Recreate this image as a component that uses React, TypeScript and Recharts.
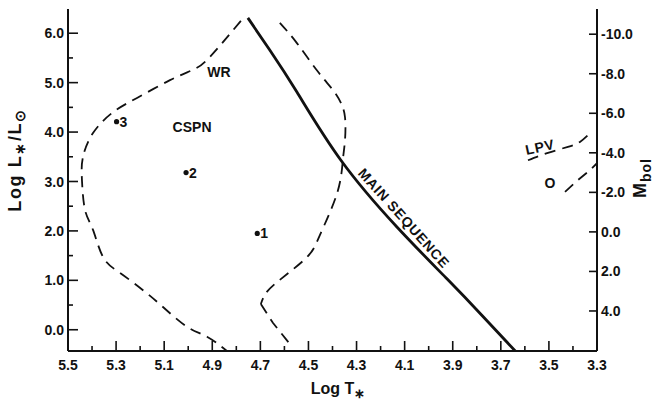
import React from 'react';
import { ComposedChart, Line, Scatter, XAxis, YAxis } from 'recharts';

// HR diagram: log T* (reversed) against log L*/L⊙, with M_bol on the right.
const INK = '#111111';
const FONT = '"Liberation Sans", Arial, sans-serif';

// plot box in px, chart margins/axis sizes below are chosen to land on these
const PLOT_LEFT = 68;
const PLOT_RIGHT = 597;
const PLOT_TOP = 9;
const PLOT_BOTTOM = 351;

const X_DOMAIN = [3.3, 5.5];
const LOGL_DOMAIN = [-0.43, 6.49];
// M_bol = 4.95 - 2.5 log L, evaluated at the ends of LOGL_DOMAIN
const MBOL_DOMAIN = [-11.275, 6.025];

const X_MAJOR_TICKS = [5.5, 5.3, 5.1, 4.9, 4.7, 4.5, 4.3, 4.1, 3.9, 3.7, 3.5, 3.3];
const X_MINOR_TICKS = [5.4, 5.2, 5.0, 4.8, 4.6, 4.4, 4.2, 4.0, 3.8, 3.6, 3.4];
const LOGL_MAJOR_TICKS = [0, 1, 2, 3, 4, 5, 6];
const LOGL_MINOR_TICKS = [0.5, 1.5, 2.5, 3.5, 4.5, 5.5];
const MBOL_TICKS = [-10, -8, -6, -4, -2, 0, 2, 4];

const mainSequence = [
  { x: 4.752, y: 6.31 },
  { x: 4.661, y: 5.66 },
  { x: 4.548, y: 4.81 },
  { x: 4.365, y: 3.43 },
  { x: 4.132, y: 2.08 },
  { x: 3.924, y: 1.03 },
  { x: 3.78, y: 0.3 },
  { x: 3.64, y: -0.43 },
];

const cspnOuter = [
  { x: 4.781, y: 6.25 },
  { x: 4.91, y: 5.52 },
  { x: 4.98, y: 5.26 },
  { x: 5.076, y: 5.05 },
  { x: 5.213, y: 4.69 },
  { x: 5.313, y: 4.4 },
  { x: 5.396, y: 3.98 },
  { x: 5.438, y: 3.49 },
  { x: 5.442, y: 3.03 },
  { x: 5.429, y: 2.42 },
  { x: 5.396, y: 2.02 },
  { x: 5.354, y: 1.47 },
  { x: 5.284, y: 1.15 },
  { x: 5.188, y: 0.8 },
  { x: 5.105, y: 0.46 },
  { x: 5.005, y: 0.06 },
  { x: 4.922, y: -0.14 },
  { x: 4.839, y: -0.43 },
];

const cspnInnerUpper = [
  { x: 4.619, y: 6.21 },
  { x: 4.548, y: 5.8 },
  { x: 4.465, y: 5.25 },
  { x: 4.398, y: 4.85 },
  { x: 4.365, y: 4.59 },
  { x: 4.348, y: 4.3 },
  { x: 4.348, y: 3.84 },
  { x: 4.357, y: 3.43 },
  { x: 4.381, y: 2.76 },
  { x: 4.452, y: 1.92 },
  { x: 4.506, y: 1.47 },
  { x: 4.619, y: 1.01 },
  { x: 4.677, y: 0.74 },
  { x: 4.698, y: 0.52 },
];

const cspnInnerLower = [
  { x: 4.698, y: 0.52 },
  { x: 4.648, y: 0.14 },
  { x: 4.577, y: -0.29 },
];

const lpvLine = [
  { x: 3.587, y: 3.43 },
  { x: 3.504, y: 3.58 },
  { x: 3.421, y: 3.7 },
  { x: 3.371, y: 3.8 },
  { x: 3.329, y: 3.98 },
];

const oLine = [
  { x: 3.433, y: 2.79 },
  { x: 3.379, y: 3.03 },
  { x: 3.329, y: 3.23 },
  { x: 3.3, y: 3.37 },
];

const stars = [
  { x: 4.713, y: 1.95, label: '1' },
  { x: 5.009, y: 3.18, label: '2' },
  { x: 5.298, y: 4.21, label: '3' },
];

const annotations = [
  { x: 4.872, y: 5.21, text: 'WR', angle: 0, size: 14 },
  { x: 4.984, y: 4.1, text: 'CSPN', angle: 0, size: 14 },
  { x: 4.103, y: 2.26, text: 'MAIN SEQUENCE', angle: 48, size: 14 },
  { x: 3.537, y: 3.7, text: 'LPV', angle: -12, size: 14 },
  { x: 3.496, y: 2.97, text: 'O', angle: 0, size: 14 },
];

const textStyle = { fontFamily: FONT, fontWeight: 700, fill: INK };

const BottomTick = (props: any) => {
  const { x, payload } = props;
  const major = X_MAJOR_TICKS.includes(payload.value);
  return (
    <g>
      <line x1={x} x2={x} y1={PLOT_BOTTOM} y2={PLOT_BOTTOM - (major ? 10 : 5)} stroke={INK} strokeWidth={1.6} />
      {major ? (
        <text x={x} y={370} textAnchor="middle" fontSize={14} {...textStyle}>
          {payload.value.toFixed(1)}
        </text>
      ) : null}
    </g>
  );
};

const TopTick = (props: any) => {
  const { x, payload } = props;
  const major = X_MAJOR_TICKS.includes(payload.value);
  return <line x1={x} x2={x} y1={PLOT_TOP} y2={PLOT_TOP + (major ? 10 : 5)} stroke={INK} strokeWidth={1.6} />;
};

const LeftTick = (props: any) => {
  const { y, payload } = props;
  const major = LOGL_MAJOR_TICKS.includes(payload.value);
  return (
    <g>
      <line x1={PLOT_LEFT} x2={PLOT_LEFT + (major ? 10 : 5)} y1={y} y2={y} stroke={INK} strokeWidth={1.6} />
      {major ? (
        <text x={PLOT_LEFT - 4} y={y} dy="0.36em" textAnchor="end" fontSize={14} {...textStyle}>
          {payload.value.toFixed(1)}
        </text>
      ) : null}
    </g>
  );
};

const RightTick = (props: any) => {
  const { y, payload } = props;
  return (
    <g>
      <line x1={PLOT_RIGHT} x2={PLOT_RIGHT - 8} y1={y} y2={y} stroke={INK} strokeWidth={1.6} />
      <text x={PLOT_RIGHT + 4} y={y} dy="0.36em" textAnchor="start" fontSize={14} {...textStyle}>
        {payload.value.toFixed(1)}
      </text>
    </g>
  );
};

const StarShape = (props: any) => {
  const { cx, cy, payload } = props;
  return (
    <g>
      <circle cx={cx} cy={cy} r={2.6} fill={INK} />
      <text x={cx + 3} y={cy} dy="0.36em" fontSize={14} {...textStyle}>
        {payload.label}
      </text>
    </g>
  );
};

const AnnotationShape = (props: any) => {
  const { cx, cy, payload } = props;
  return (
    <text
      x={cx}
      y={cy}
      dy="0.36em"
      textAnchor="middle"
      fontSize={payload.size}
      letterSpacing={payload.angle ? 0.8 : 0}
      transform={`rotate(${payload.angle}, ${cx}, ${cy})`}
      {...textStyle}
    >
      {payload.text}
    </text>
  );
};

const XTitle = () => (
  <text x={338} y={394} textAnchor="middle" fontSize={16} {...textStyle}>
    Log T
    <tspan dy={4} fontSize={13}>∗</tspan>
  </text>
);

const YTitle = () => (
  <text
    x={21}
    y={160}
    textAnchor="middle"
    fontSize={18}
    letterSpacing={1.6}
    transform="rotate(-90, 21, 160)"
    {...textStyle}
  >
    Log L
    <tspan dy={4} fontSize={14}>∗</tspan>
    <tspan dy={-4}>/L</tspan>
    <tspan dy={4} fontSize={14}>⊙</tspan>
  </text>
);

const MbolTitle = () => (
  <text
    x={646}
    y={178}
    textAnchor="middle"
    fontSize={18}
    letterSpacing={1}
    transform="rotate(-90, 646, 178)"
    {...textStyle}
  >
    M
    <tspan dy={5} fontSize={14}>bol</tspan>
  </text>
);

const dashed = { stroke: INK, strokeWidth: 1.8, strokeDasharray: '11 7' };

export default function App() {
  return (
    <div style={{ position: 'absolute', left: 0, top: 0, width: 660, height: 409, background: '#fff' }}>
      <ComposedChart width={660} height={409} margin={{ top: PLOT_TOP, right: 0, bottom: 0, left: 0 }}>
        <XAxis
          xAxisId="t"
          dataKey="x"
          type="number"
          domain={X_DOMAIN}
          reversed
          allowDataOverflow
          ticks={[...X_MAJOR_TICKS, ...X_MINOR_TICKS].sort((a, b) => b - a)}
          interval={0}
          height={409 - PLOT_BOTTOM}
          tick={BottomTick}
          tickLine={false}
          axisLine={{ stroke: INK, strokeWidth: 2 }}
          label={XTitle}
        />
        <XAxis
          xAxisId="top"
          orientation="top"
          type="number"
          domain={X_DOMAIN}
          reversed
          allowDataOverflow
          ticks={[...X_MAJOR_TICKS, ...X_MINOR_TICKS].sort((a, b) => b - a)}
          interval={0}
          height={0}
          tick={TopTick}
          tickLine={false}
          axisLine={{ stroke: INK, strokeWidth: 2 }}
        />
        <YAxis
          yAxisId="l"
          type="number"
          domain={LOGL_DOMAIN}
          allowDataOverflow
          ticks={[...LOGL_MAJOR_TICKS, ...LOGL_MINOR_TICKS].sort((a, b) => a - b)}
          interval={0}
          width={PLOT_LEFT}
          tick={LeftTick}
          tickLine={false}
          axisLine={{ stroke: INK, strokeWidth: 2 }}
          label={YTitle}
        />
        <YAxis
          yAxisId="mbol"
          orientation="right"
          type="number"
          domain={MBOL_DOMAIN}
          reversed
          allowDataOverflow
          ticks={MBOL_TICKS}
          interval={0}
          width={660 - PLOT_RIGHT}
          tick={RightTick}
          tickLine={false}
          axisLine={{ stroke: INK, strokeWidth: 2 }}
          label={MbolTitle}
        />

        <Line xAxisId="t" yAxisId="l" data={mainSequence} dataKey="y" type="natural" stroke={INK} strokeWidth={2.8} dot={false} isAnimationActive={false} />
        <Line xAxisId="t" yAxisId="l" data={cspnOuter} dataKey="y" type="natural" {...dashed} dot={false} isAnimationActive={false} />
        <Line xAxisId="t" yAxisId="l" data={cspnInnerUpper} dataKey="y" type="natural" {...dashed} dot={false} isAnimationActive={false} />
        <Line xAxisId="t" yAxisId="l" data={cspnInnerLower} dataKey="y" type="linear" {...dashed} dot={false} isAnimationActive={false} />
        <Line xAxisId="t" yAxisId="l" data={lpvLine} dataKey="y" type="natural" {...dashed} dot={false} isAnimationActive={false} />
        <Line xAxisId="t" yAxisId="l" data={oLine} dataKey="y" type="linear" {...dashed} dot={false} isAnimationActive={false} />

        <Scatter xAxisId="t" yAxisId="l" data={stars} dataKey="y" shape={StarShape} isAnimationActive={false} />
        <Scatter xAxisId="t" yAxisId="l" data={annotations} dataKey="y" shape={AnnotationShape} isAnimationActive={false} />
      </ComposedChart>
    </div>
  );
}
